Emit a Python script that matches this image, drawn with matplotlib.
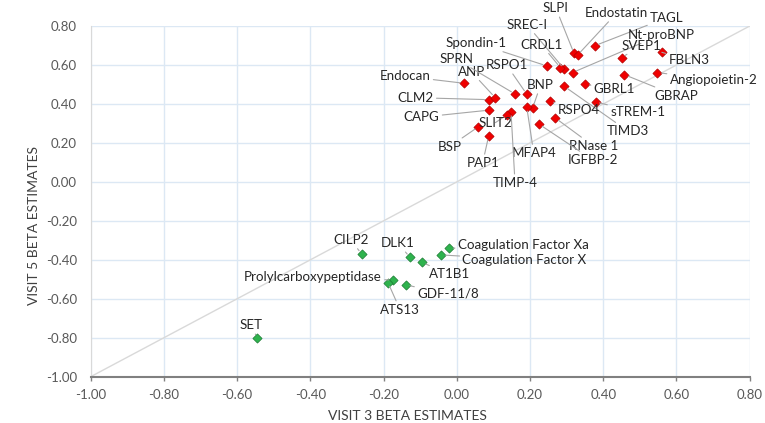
import matplotlib
matplotlib.use("Agg")
import matplotlib.pyplot as plt
from matplotlib.ticker import FormatStrFormatter

plt.rcParams['font.family'] = ['Lato', 'DejaVu Sans']

# proteins up in both visits (red)
up_names = ["SLPI", "Endostatin", "TAGL", "SREC-I", "Nt-proBNP", "SVEP1", "FBLN3",
            "Spondin-1", "CRDL1", "Angiopoietin-2", "GBRAP", "GBRL1", "TIMD3",
            "Endocan", "CLM2", "ANP", "SPRN", "RSPO1", "BNP", "CAPG", "MFAP4",
            "RSPO4", "sTREM-1", "RNase 1", "IGFBP-2", "TIMP-4", "SLIT2", "BSP", "PAP1"]
up_v3 = [0.320, 0.330, 0.377, 0.293, 0.316, 0.450, 0.560,
         0.246, 0.283, 0.548, 0.458, 0.351, 0.293,
         0.020, 0.087, 0.105, 0.159, 0.191, 0.207, 0.087, 0.191,
         0.254, 0.379, 0.269, 0.224, 0.148, 0.138, 0.059, 0.087]
up_v5 = [0.660, 0.651, 0.699, 0.580, 0.561, 0.638, 0.665,
         0.595, 0.586, 0.561, 0.550, 0.501, 0.491,
         0.506, 0.422, 0.432, 0.451, 0.450, 0.379, 0.368, 0.384,
         0.415, 0.410, 0.328, 0.297, 0.360, 0.345, 0.283, 0.236]

# proteins down in both visits (green)
down_names = ["CILP2", "DLK1", "AT1B1", "Coagulation Factor Xa", "Coagulation Factor X",
              "Prolylcarboxypeptidase", "ATS13", "GDF-11/8", "SET"]
down_v3 = [-0.260, -0.128, -0.095, -0.021, -0.042, -0.174, -0.188, -0.139, -0.545]
down_v5 = [-0.370, -0.387, -0.413, -0.341, -0.375, -0.504, -0.517, -0.529, -0.803]

ticks = [-1.0, -0.8, -0.6, -0.4, -0.2, 0.0, 0.2, 0.4, 0.6, 0.8]

# label offsets (pixels) from each point
up_off = [(-18, 45), (39, 42), (72, 28), (-37, 44), (89, 38), (20, 12), (27, -8),
          (-71, 23), (-19, 23), (56, -7), (52, -21), (29, -5), (64, -45),
          (-59, 7), (-73, 2), (-24, 26), (-59, 35), (-20, 29), (8, 23), (-67, -7), (7, -46),
          (29, -9), (42, -10), (38, -28), (54, -36), (4, -71), (-12, -8), (-29, -20), (-6, -27)]
down_off = [(-11, 14), (-12, 14), (27, -12), (74, 3), (83, -5),
            (-80, 3), (12, -27), (42, -9), (-6, 13)]

fig = plt.figure(figsize=(7.65, 4.23), dpi=100)
ax = fig.add_axes([0.1186, 0.1095, 0.8614, 0.829])

ax.plot([-1, 0.8], [-1, 0.8], color="#D9D9D9", lw=1, zorder=1)

ax.scatter(up_v3, up_v5, marker="D", s=22, color="#F00000", edgecolor="#B00000",
           linewidth=0.5, zorder=3)
ax.scatter(down_v3, down_v5, marker="D", s=22, color="#2EB34D", edgecolor="#1B7A33",
           linewidth=0.5, zorder=3)

lead = dict(arrowstyle="-", color="#A6A6A6", lw=0.8, shrinkA=0, shrinkB=3)
for names, xs, ys, offs in [(up_names, up_v3, up_v5, up_off),
                            (down_names, down_v3, down_v5, down_off)]:
    for n, x, y, o in zip(names, xs, ys, offs):
        ax.annotate(n, (x, y), xytext=o, textcoords="offset pixels",
                    ha="center", va="center", fontsize=9.6, color="#262626",
                    arrowprops=lead, zorder=4)

ax.set_xlim(-1, 0.8)
ax.set_ylim(-1, 0.8)
ax.set_xticks(ticks)
ax.set_yticks(ticks)
ax.xaxis.set_major_formatter(FormatStrFormatter("%.2f"))
ax.yaxis.set_major_formatter(FormatStrFormatter("%.2f"))
ax.grid(True, color="#DCE8F4", lw=1, zorder=0)
ax.set_axisbelow(True)

for s in ["top", "right"]:
    ax.spines[s].set_visible(False)
ax.spines["left"].set_color("#D9D9D9")
ax.spines["bottom"].set_color("#808080")
ax.spines["bottom"].set_linewidth(1.5)
ax.tick_params(axis="x", length=3, width=1, color="#808080", labelsize=9.5,
               labelcolor="#595959", pad=6)
ax.tick_params(axis="y", length=0, labelsize=9.5, labelcolor="#595959", pad=10)

ax.set_xlabel("VISIT 3 BETA ESTIMATES", fontsize=10, color="#404040")
ax.set_ylabel("VISIT 5 BETA ESTIMATES", fontsize=10, color="#404040")
ax.xaxis.set_label_coords(0.48, -0.095)
ax.yaxis.set_label_coords(-0.077, 0.43)

fig.savefig("out.png", dpi=100)
